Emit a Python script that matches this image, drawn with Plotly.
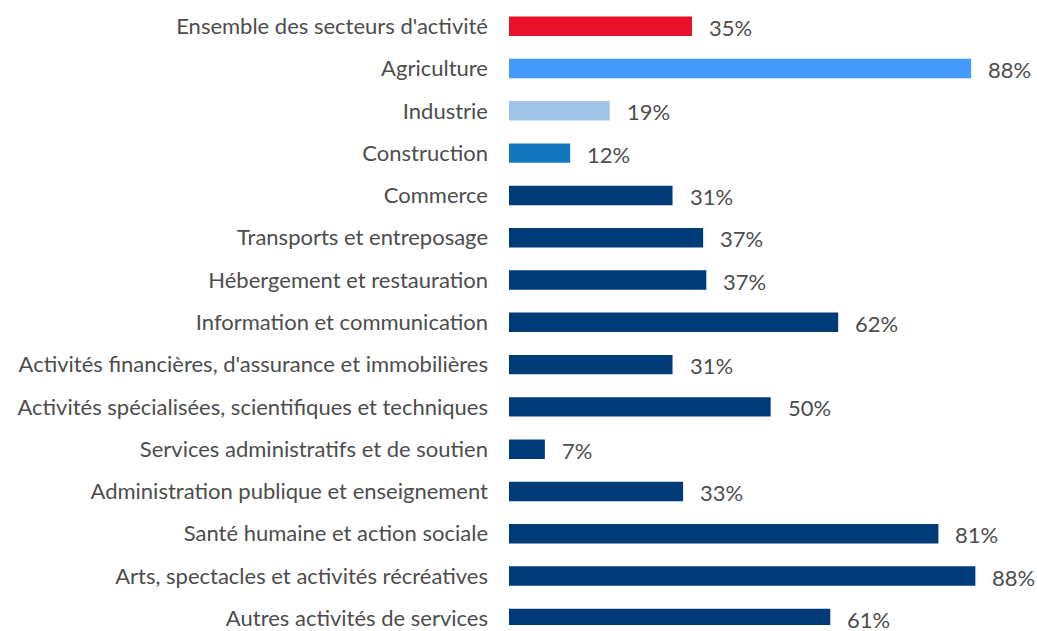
import plotly.graph_objects as go

categories = [
    "Ensemble des secteurs d'activité",
    "Agriculture",
    "Industrie",
    "Construction",
    "Commerce",
    "Transports et entreposage",
    "Hébergement et restauration",
    "Information et communication",
    "Activités financières, d'assurance et immobilières",
    "Activités spécialisées, scientifiques et techniques",
    "Services administratifs et de soutien",
    "Administration publique et enseignement",
    "Santé humaine et action sociale",
    "Arts, spectacles et activités récréatives",
    "Autres activités de services",
]
values = [34.7, 87.6, 19.1, 11.6, 31.0, 36.8, 37.4, 62.4, 31.0, 49.6, 6.8, 33.0, 81.4, 88.4, 60.9]
colors = ["#E8132A", "#429BFD", "#9FC4E8", "#1177BF"] + ["#003B79"] * 11

FONT = "Lato"
TXT = "#4D4D4D"
SIZE = 22

fig = go.Figure()
fig.add_trace(go.Bar(
    x=values, y=categories, orientation="h",
    marker=dict(color=colors, line=dict(width=0)),
    width=0.46, hoverinfo="skip",
))
for c, v in zip(categories, values):
    fig.add_annotation(x=v, y=c, text=f"{v:.0f}%", showarrow=False,
                       xanchor="left", yanchor="middle", xshift=15, yshift=-1,
                       font=dict(family=FONT, size=SIZE, color=TXT))

fig.update_layout(
    width=1037, height=631,
    margin=dict(l=509, r=10.6, t=0, b=0),
    paper_bgcolor="white", plot_bgcolor="white",
    showlegend=False,
    font=dict(family=FONT, size=SIZE, color=TXT),
)
fig.update_xaxes(range=[0, 98], visible=False)
fig.update_yaxes(
    type="category", categoryorder="array", categoryarray=categories,
    range=[14.157, -0.621], showgrid=False, zeroline=False, showline=False,
    ticks="", ticklabelstandoff=20,
    tickfont=dict(family=FONT, size=SIZE, color=TXT),
)
fig.write_html(
    "out.html",
    config={"displayModeBar": False},
    post_script="document.body.style.margin='0px';document.body.style.overflow='hidden';",
)
